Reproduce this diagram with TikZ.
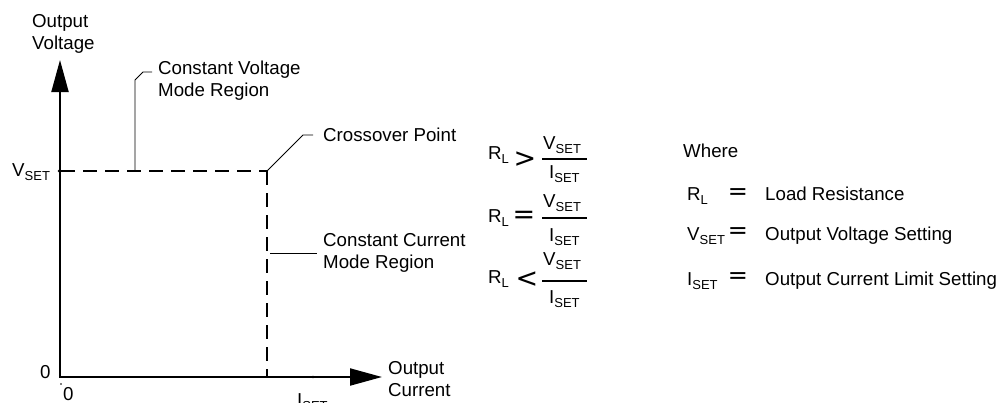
\documentclass[tikz,border=0pt]{standalone}
\usepackage{fontspec}
\setmainfont{Liberation Sans}
\newfontfamily\symfont{DejaVu Sans}
\usetikzlibrary{arrows.meta}
\newcommand\lsub[1]{\raisebox{-4.5pt}{\fontsize{13}{14}\selectfont #1}}
\begin{document}
\begin{tikzpicture}[x=1pt,y=-1pt,
  txt/.style={anchor=base west,inner sep=0pt,font=\fontsize{18.7}{22}\selectfont},
  axis/.style={line width=2pt,{Triangle[length=32pt,width=17pt]}-{Triangle[length=32pt,width=17pt]}},
  dashline/.style={line width=2pt,dash pattern=on 14pt off 8pt},
  leader/.style={line width=0.9pt},
  rel/.style={inner sep=0pt,anchor=center},
  relbig/.style={rel,font=\symfont\fontsize{27}{27}\selectfont},
  relsmall/.style={rel,font=\symfont\fontsize{24}{24}\selectfont},
  fracbar/.style={line width=1.7pt},
  tick/.style={fill=black}]
\useasboundingbox (0,0) rectangle (1006,402);

% axes
\coordinate (O) at (60,377);
\coordinate (Ytip) at (60,60);
\coordinate (Xtip) at (382,377);
\draw[axis] (Ytip) -- (O) -- (Xtip);
\coordinate (Vs) at (61,171);
\coordinate (C) at (267,171);
\coordinate (Is) at (267,376);
\draw[dashline] (Vs) -- (C);
\draw[dashline] (C) -- (Is);
\fill[tick] (59,171) circle (1.3);
\fill[tick] (313,377) circle (1.3);
\fill[tick] (61,384) circle (0.9);

% leaders
\coordinate (cv0) at (135,171);
\coordinate (cv1) at (135,80);
\coordinate (cv2) at (143,72);
\coordinate (cv3) at (152,72);
\draw[leader] (cv0) -- (cv1) -- (cv2) -- (cv3);
\coordinate (co1) at (303,135);
\coordinate (co2) at (313,135);
\draw[leader] (C) -- (co1) -- (co2);
\coordinate (cc0) at (270,253);
\coordinate (cc1) at (317,253);
\draw[leader] (cc0) -- (cc1);

% graph labels
\node[txt] (yl1) at (32,27) {Output};
\node[txt] (yl2) at (32,49) {Voltage};
\node[txt] (cvl1) at (158,74) {Constant Voltage};
\node[txt] (cvl2) at (158,96) {Mode Region};
\node[txt] (vset) at (12,176) {V\lsub{SET}};
\node[txt] (col) at (323,141) {Crossover Point};
\node[txt] (ccl1) at (323,246) {Constant Current};
\node[txt] (ccl2) at (323,268) {Mode Region};
\node[txt] (zy) at (40,378) {0};
\node[txt] (zx) at (63,400) {0};
\node[txt] (iset) at (297,406) {I\lsub{SET}};
\node[txt] (xl1) at (388,374) {Output};
\node[txt] (xl2) at (388,396) {Current};

% equations
\node[txt] (r1) at (488,159) {R\lsub{L}};
\node[relbig] (g1) at (525,160) {>};
\draw[fracbar] (542,159) -- (587,159);
\node[txt] (n1) at (543,149) {V\lsub{SET}};
\node[txt] (d1) at (549,178) {I\lsub{SET}};

\node[txt] (r2) at (488,222) {R\lsub{L}};
\node[relbig] (e2) at (524,217) {=};
\draw[fracbar] (542,218) -- (587,218);
\node[txt] (n2) at (543,207) {V\lsub{SET}};
\node[txt] (d2) at (549,241) {I\lsub{SET}};

\node[txt] (r3) at (488,283) {R\lsub{L}};
\node[relbig] (l3) at (527,280) {<};
\draw[fracbar] (542,281) -- (587,281);
\node[txt] (n3) at (543,265) {V\lsub{SET}};
\node[txt] (d3) at (549,303) {I\lsub{SET}};

% legend
\node[txt] (wh) at (683,157) {Where};
\node[txt] (k1) at (687,200) {R\lsub{L}};
\node[relsmall] (q1) at (738,194) {=};
\node[txt] (t1) at (765,200) {Load Resistance};
\node[txt] (k2) at (687,240) {V\lsub{SET}};
\node[relsmall] (q2) at (738,233.5) {=};
\node[txt] (t2) at (765,240) {Output Voltage Setting};
\node[txt] (k3) at (687,285) {I\lsub{SET}};
\node[relsmall] (q3) at (738,278.5) {=};
\node[txt] (t3) at (765,285) {Output Current Limit Setting};
\end{tikzpicture}
\end{document}
